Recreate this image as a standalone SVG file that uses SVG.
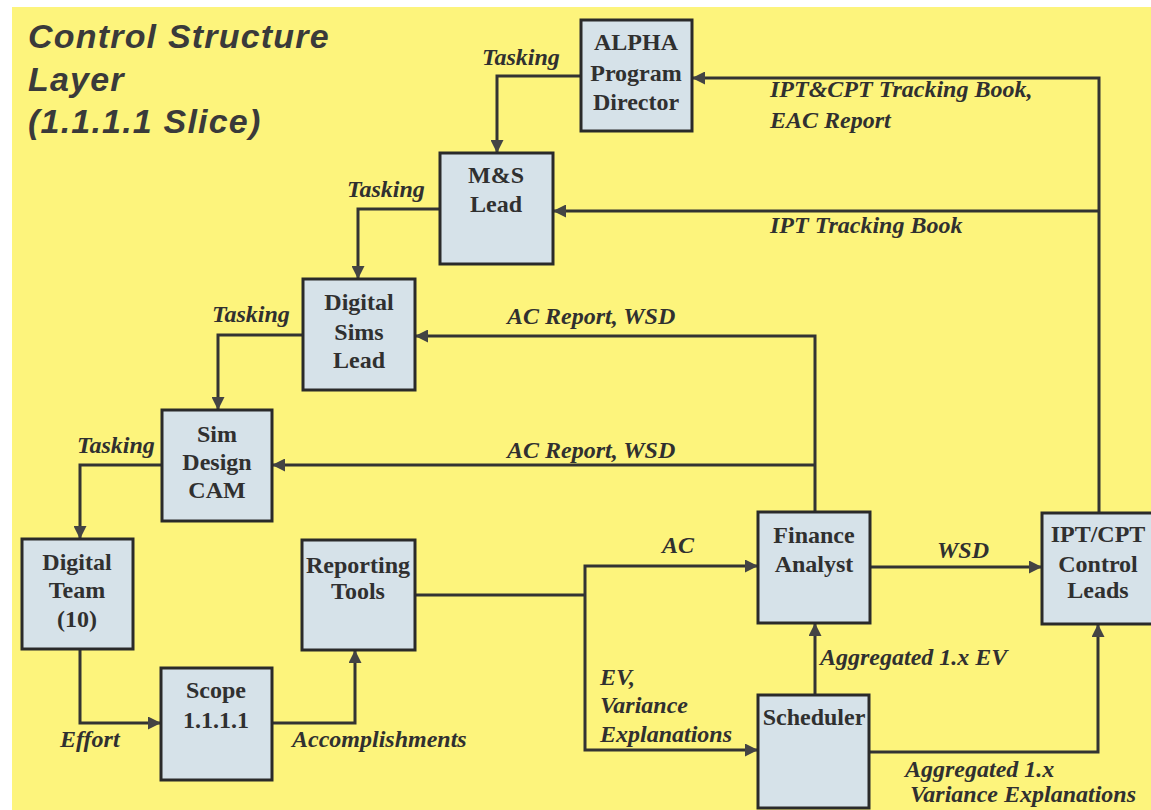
<svg xmlns="http://www.w3.org/2000/svg" width="1151" height="810" viewBox="0 0 1151 810">
<style>
.bg{fill:#fdf47c}
.box{fill:#d6e2e9;stroke:#2a2a2a;stroke-width:3}
.nt{font-family:"Liberation Serif",serif;font-weight:bold;font-size:24px;fill:#303030;text-anchor:middle}
.lb{font-family:"Liberation Serif",serif;font-weight:bold;font-style:italic;font-size:24px;fill:#303030}
.ttl{font-family:"Liberation Sans",Arial,sans-serif;font-weight:bold;font-style:italic;font-size:34px;letter-spacing:1.2px;fill:#3a3a3a}
.cn{fill:none;stroke:#333;stroke-width:3}
</style>
<defs>
<marker id="ah" viewBox="0 0 12 12" refX="12" refY="6" markerWidth="13" markerHeight="13" markerUnits="userSpaceOnUse" orient="auto">
<path d="M0,0 L12,6 L0,12 Z" fill="#444"/>
</marker>
</defs>
<rect x="0" y="0" width="1151" height="810" fill="#ffffff"/>
<rect class="bg" x="12" y="7" width="1139" height="803"/>
<g id="title">
<text class="ttl" x="28" y="48">Control Structure</text>
<text class="ttl" x="28" y="91">Layer</text>
<text class="ttl" x="28" y="133">(1.1.1.1 Slice)</text>
</g>
<g id="connectors">
<path class="cn" d="M581,76 H497 V153" marker-end="url(#ah)"/>
<path class="cn" d="M1099,513 V78 H692" marker-end="url(#ah)"/>
<path class="cn" d="M1099,211 H553" marker-end="url(#ah)"/>
<path class="cn" d="M440,209 H358 V279" marker-end="url(#ah)"/>
<path class="cn" d="M303,335 H218 V410" marker-end="url(#ah)"/>
<path class="cn" d="M815,512 V336 H415" marker-end="url(#ah)"/>
<path class="cn" d="M815,465 H272" marker-end="url(#ah)"/>
<path class="cn" d="M162,465 H80 V539" marker-end="url(#ah)"/>
<path class="cn" d="M80,649 V723 H161" marker-end="url(#ah)"/>
<path class="cn" d="M272,723 H355 V650" marker-end="url(#ah)"/>
<path class="cn" d="M415,595 H585"/>
<path class="cn" d="M585,595 V566 H758" marker-end="url(#ah)"/>
<path class="cn" d="M585,595 V750 H758" marker-end="url(#ah)"/>
<path class="cn" d="M815,695 V623" marker-end="url(#ah)"/>
<path class="cn" d="M870,567 H1042" marker-end="url(#ah)"/>
<path class="cn" d="M869,752 H1098 V624" marker-end="url(#ah)"/>
</g>
<g id="labels">
<text class="lb" x="482" y="65">Tasking</text>
<text class="lb" x="770" y="97">IPT&amp;CPT Tracking Book,</text>
<text class="lb" x="770" y="128">EAC Report</text>
<text class="lb" x="347" y="197">Tasking</text>
<text class="lb" x="770" y="233">IPT Tracking Book</text>
<text class="lb" x="212" y="322">Tasking</text>
<text class="lb" x="507" y="324">AC Report, WSD</text>
<text class="lb" x="507" y="458">AC Report, WSD</text>
<text class="lb" x="77" y="453">Tasking</text>
<text class="lb" x="60" y="747">Effort</text>
<text class="lb" x="292" y="747">Accomplishments</text>
<text class="lb" x="662" y="553">AC</text>
<text class="lb" x="600" y="685">EV,</text>
<text class="lb" x="600" y="713">Variance</text>
<text class="lb" x="600" y="742">Explanations</text>
<text class="lb" x="820" y="665">Aggregated 1.x EV</text>
<text class="lb" x="937" y="558">WSD</text>
<text class="lb" x="905" y="777">Aggregated 1.x</text>
<text class="lb" x="910" y="802">Variance Explanations</text>
</g>
<g id="alpha">
<rect class="box" x="581" y="20" width="111" height="111"/>
<text class="nt" x="636" y="50">ALPHA</text>
<text class="nt" x="636" y="81">Program</text>
<text class="nt" x="636" y="110">Director</text>
</g>
<g id="ms-lead">
<rect class="box" x="440" y="153" width="113" height="111"/>
<text class="nt" x="496" y="183">M&amp;S</text>
<text class="nt" x="496" y="212">Lead</text>
</g>
<g id="digital-sims-lead">
<rect class="box" x="303" y="279" width="112" height="111"/>
<text class="nt" x="359" y="310">Digital</text>
<text class="nt" x="359" y="340">Sims</text>
<text class="nt" x="359" y="368">Lead</text>
</g>
<g id="sim-design-cam">
<rect class="box" x="162" y="410" width="110" height="111"/>
<text class="nt" x="217" y="442">Sim</text>
<text class="nt" x="217" y="470">Design</text>
<text class="nt" x="217" y="498">CAM</text>
</g>
<g id="digital-team">
<rect class="box" x="22" y="539" width="111" height="110"/>
<text class="nt" x="77" y="570">Digital</text>
<text class="nt" x="77" y="598">Team</text>
<text class="nt" x="77" y="627">(10)</text>
</g>
<g id="reporting-tools">
<rect class="box" x="302" y="540" width="113" height="110"/>
<text class="nt" x="358" y="573">Reporting</text>
<text class="nt" x="358" y="599">Tools</text>
</g>
<g id="scope">
<rect class="box" x="161" y="668" width="111" height="112"/>
<text class="nt" x="216" y="698">Scope</text>
<text class="nt" x="216" y="728">1.1.1.1</text>
</g>
<g id="finance-analyst">
<rect class="box" x="758" y="512" width="112" height="111"/>
<text class="nt" x="814" y="543">Finance</text>
<text class="nt" x="814" y="572">Analyst</text>
</g>
<g id="scheduler">
<rect class="box" x="758" y="695" width="111" height="113"/>
<text class="nt" x="814" y="725">Scheduler</text>
</g>
<g id="ipt-cpt">
<rect class="box" x="1042" y="513" width="115" height="111"/>
<text class="nt" x="1098" y="542">IPT/CPT</text>
<text class="nt" x="1098" y="572">Control</text>
<text class="nt" x="1098" y="598">Leads</text>
</g>
</svg>
